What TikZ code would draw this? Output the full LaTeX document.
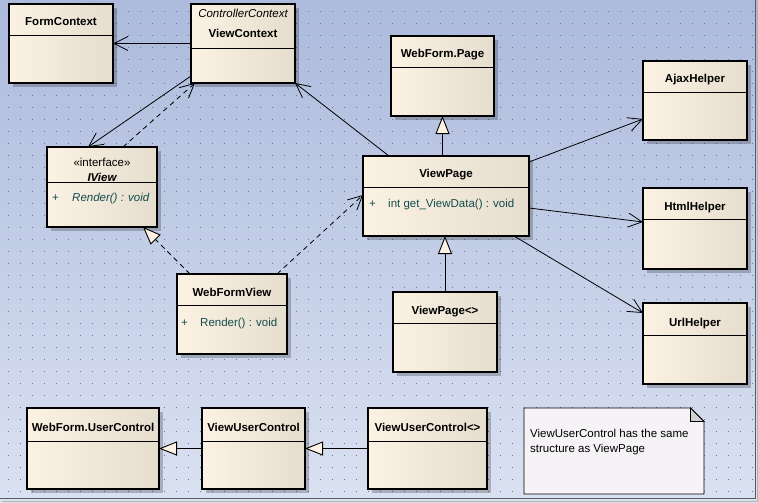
\documentclass[tikz,border=0pt]{standalone}
\usepackage{fontspec}
\setmainfont{Liberation Sans}
\usetikzlibrary{arrows.meta,shadows}
\definecolor{bgtop}{RGB}{172,186,220}
\definecolor{bgbot}{RGB}{218,225,241}
\definecolor{dotc}{RGB}{104,118,165}
\definecolor{creamA}{RGB}{251,242,227}
\definecolor{creamB}{RGB}{229,221,206}
\definecolor{memc}{RGB}{18,76,76}
\definecolor{notefill}{RGB}{246,243,246}
\definecolor{framec}{RGB}{90,90,95}
\tikzset{
  x=1pt, y=-1pt,
  clsbox/.style={draw=black, line width=1.1pt, inner sep=0pt, outer sep=0pt,
    left color=creamA, middle color=creamA, right color=creamB,
    drop shadow={shadow xshift=4pt, shadow yshift=-4pt, fill=black, opacity=0.22}},
  sepline/.style={draw=black, line width=0.9pt},
  ttl/.style={font=\bfseries\fontsize{11.5}{13}\selectfont, inner sep=0pt, anchor=base},
  stereo/.style={font=\fontsize{11.5}{13}\selectfont, inner sep=0pt, anchor=base},
  mem/.style={font=\fontsize{11.5}{13}\selectfont, text=memc, inner sep=0pt, anchor=base west},
  notetxt/.style={font=\fontsize{11.5}{13}\selectfont, inner sep=0pt, anchor=base west},
  assoc/.style={draw=black, line width=0.8pt, -{Straight Barb[length=14pt,width=14pt,line width=0.8pt]}},
  dep/.style={assoc, dash pattern=on 5pt off 4pt},
  gen/.style={draw=black, line width=0.9pt, -{Triangle[length=18pt,width=14pt,fill=creamA,line width=0.9pt]}},
  real/.style={gen, dash pattern=on 5pt off 4pt},
}
\newcommand{\umlcls}[6]{%
  \node[clsbox, minimum width={(#4-#2)*1pt}, minimum height={(#5-#3)*1pt}] (#1) at ({(#2+#4)/2},{(#3+#5)/2}) {};
  \draw[sepline] (#2,#6) -- (#4,#6);}
\begin{document}
\begin{tikzpicture}
\useasboundingbox (0,0) rectangle (758,503);
\shade[top color=bgtop, bottom color=bgbot] (0,0) rectangle (758,503);
\foreach \xx in {8,20,...,752} {
  \foreach \yy in {11,23,...,491} {
    \fill[dotc] (\xx,\yy) rectangle ++(1,1);
  }
}
\draw[framec, line width=1.6pt] (755.5,0) -- (755.5,498.5) -- (0,498.5);
\draw[gray!60, line width=1pt] (757.5,2) -- (757.5,501) -- (2,501);

% classes
\umlcls{formctx}{9}{4}{113}{83}{35}
\node[ttl] (tformctx) at (61,26) {FormContext};

\umlcls{viewctx}{191}{4}{295}{83}{48}
\node[stereo, font=\itshape\fontsize{11.5}{13}\selectfont] (sviewctx) at (243,18) {ControllerContext};
\node[ttl] (tviewctx) at (243,38) {ViewContext};

\umlcls{iview}{47}{147}{157}{227}{182}
\node[stereo] (siview) at (102,166) {«interface»};
\node[ttl, font=\bfseries\itshape\fontsize{11.5}{13}\selectfont] (tiview) at (102,181) {IView};
\node[mem] (piview) at (52,201) {+};
\node[mem, font=\itshape\fontsize{11.5}{13}\selectfont] (miview) at (72,201) {Render() : void};

\umlcls{wfview}{177}{274}{287}{354}{305}
\node[ttl] (twfview) at (232,296) {WebFormView};
\node[mem] (pwfview) at (181,326) {+};
\node[mem] (mwfview) at (200,326) {Render() : void};

\umlcls{wfpage}{391}{36}{494}{116}{67}
\node[ttl] (twfpage) at (442.5,58) {WebForm.Page};

\umlcls{viewpage}{363}{156}{529}{236}{187}
\node[ttl] (tviewpage) at (446,177) {ViewPage};
\node[mem] (pviewpage) at (369,207) {+};
\node[mem] (mviewpage) at (388,207) {int get\_ViewData() : void};

\umlcls{ajax}{643}{61}{747}{140}{92}
\node[ttl] (tajax) at (695,82) {AjaxHelper};

\umlcls{html}{643}{188}{747}{269}{219}
\node[ttl] (thtml) at (695,210) {HtmlHelper};

\umlcls{url}{643}{303}{747}{384}{335}
\node[ttl] (turl) at (695,326) {UrlHelper};

\umlcls{vpgen}{393}{292}{497}{372}{323}
\node[ttl] (tvpgen) at (445,314) {ViewPage<>};

\umlcls{wfuc}{27}{408}{159}{489}{441}
\node[ttl] (twfuc) at (93,431) {WebForm.UserControl};

\umlcls{vuc}{202}{408}{305}{489}{441}
\node[ttl] (tvuc) at (253.5,431) {ViewUserControl};

\umlcls{vucgen}{368}{408}{487}{489}{441}
\node[ttl] (tvucgen) at (427.5,431) {ViewUserControl<>};

% note
\draw[black, line width=0.9pt, fill=notefill] (524,408) -- (690.5,408) -- (704,421.5) -- (704,494) -- (524,494) -- cycle;
\draw[black, line width=0.9pt, fill=gray!35] (690.5,408) -- (690.5,421.5) -- (704,421.5) -- cycle;
\node[notetxt] (notetext1) at (530,437) {ViewUserControl has the same};
\node[notetxt] (notetext2) at (530,452) {structure as ViewPage};

% connectors
\draw[assoc] (viewctx) -- (formctx);
\draw[assoc] ([yshift=7pt]viewctx.south west) -- ([xshift=41pt]iview.north west);
\draw[dep] ([xshift=76pt]iview.north west) -- ([xshift=4pt]viewctx.south west);
\draw[assoc] ([xshift=26pt]viewpage.north west) -- (viewctx.south east);
\draw[gen] (viewpage.north -| twfpage) -- (wfpage.south -| twfpage);
\draw[real] ([xshift=13pt]wfview.north west) -- ([xshift=96pt]iview.south west);
\draw[dep] ([xshift=-10pt]wfview.north east) -- ([yshift=1pt]viewpage.west);
\draw[assoc] ([yshift=-6pt]viewpage.north east) -- ([yshift=21pt]ajax.south west);
\draw[assoc] ([yshift=-12pt]viewpage.east) -- ([yshift=6.5pt]html.west);
\draw[assoc] ([xshift=-15pt]viewpage.south east) -- ([yshift=-10pt]url.north west);
\draw[gen] (vpgen.north) -- (vpgen.north |- viewpage.south);
\draw[gen] (vuc) -- (wfuc);
\draw[gen] (vucgen) -- (vuc);
\end{tikzpicture}
\end{document}
